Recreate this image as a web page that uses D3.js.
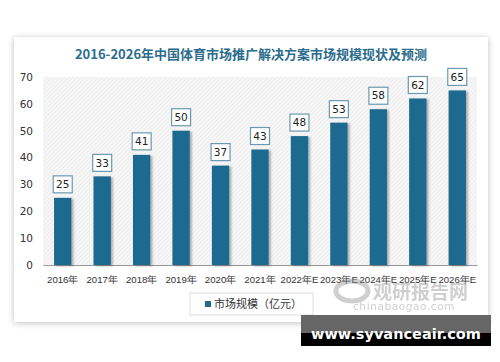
<!DOCTYPE html>
<html>
<head>
<meta charset="utf-8">
<script src="https://cdn.jsdelivr.net/npm/d3@7"></script>
<style>
  body { margin: 0; background: #fff; }
  svg { display: block; font-family: "Noto Sans CJK SC", "DejaVu Sans", sans-serif; }
</style>
</head>
<body>
<div id="chart"></div>
<script>
const categories = ["2016年", "2017年", "2018年", "2019年", "2020年", "2021年", "2022年E", "2023年E", "2024年E", "2025年E", "2026年E"];
const marketSize = [25, 33, 41, 50, 37, 43, 48, 53, 58, 62, 65];
const yTicks = [0, 10, 20, 30, 40, 50, 60, 70];
const title = "2016-2026年中国体育市场推广解决方案市场规模现状及预测";
const seriesName = "市场规模（亿元）";

const W = 500, H = 362;
const margin = { top: 77, right: 23, bottom: 97, left: 43 };
const width = W - margin.left - margin.right,
      height = H - margin.top - margin.bottom;

const svg = d3.select("#chart").append("svg")
    .attr("width", W).attr("height", H);

const defs = svg.append("defs");
const sh = defs.append("filter").attr("id", "cardShadow").attr("x", "-10%").attr("y", "-10%").attr("width", "120%").attr("height", "120%");
sh.append("feDropShadow").attr("dx", 0).attr("dy", 1).attr("stdDeviation", 3).attr("flood-color", "#000").attr("flood-opacity", 0.25);
const bs = defs.append("filter").attr("id", "barShadow").attr("x", "-30%").attr("y", "-10%").attr("width", "160%").attr("height", "120%");
bs.append("feDropShadow").attr("dx", 2).attr("dy", 1).attr("stdDeviation", 1.2).attr("flood-color", "#000").attr("flood-opacity", 0.3);
const pat = defs.append("pattern").attr("id", "hatch").attr("patternUnits", "userSpaceOnUse")
    .attr("width", 3).attr("height", 3).attr("patternTransform", "rotate(45)");
pat.append("rect").attr("width", 3).attr("height", 3).attr("fill", "#f7f7f7");
pat.append("line").attr("x1", 0).attr("y1", 0).attr("x2", 0).attr("y2", 3).attr("stroke", "#e2e2e2").attr("stroke-width", 1);

// card
svg.append("rect").attr("x", 14).attr("y", 37).attr("width", 474).attr("height", 285)
    .attr("fill", "#fff").attr("filter", "url(#cardShadow)");

svg.append("text").attr("x", 251).attr("y", 59).attr("text-anchor", "middle")
    .attr("font-size", 13).attr("font-weight", "bold").attr("fill", "#2b6c8c")
    .text(title);

const g = svg.append("g").attr("transform", `translate(${margin.left},${margin.top})`);

g.append("rect").attr("width", width).attr("height", height).attr("fill", "url(#hatch)");

const x = d3.scaleBand().domain(categories).range([0, width]).paddingInner(0.56).paddingOuter(0.28);
const y = d3.scaleLinear().domain([0, 70]).range([height, 0]);

const yAxis = g.append("g").call(d3.axisLeft(y).tickValues(yTicks).tickSize(0).tickPadding(10));
yAxis.select(".domain").remove();
yAxis.selectAll("text").attr("font-size", 10.5).attr("fill", "#333").attr("font-family", "DejaVu Sans, sans-serif");

const xAxis = g.append("g").attr("transform", `translate(0,${height})`)
    .call(d3.axisBottom(x).tickSize(0).tickPadding(11));
xAxis.select(".domain").attr("stroke", "#999").attr("stroke-width", 1.2);
xAxis.selectAll("text").attr("font-size", 9.6).attr("fill", "#333");

g.selectAll("rect.bar").data(marketSize).join("rect").attr("class", "bar")
    .attr("x", (d, i) => x(categories[i]))
    .attr("y", d => y(d))
    .attr("width", x.bandwidth())
    .attr("height", d => height - y(d))
    .attr("fill", "#1d6b8f")
    .attr("filter", "url(#barShadow)");

const lbl = g.selectAll("g.lbl").data(marketSize).join("g").attr("class", "lbl")
    .attr("transform", (d, i) => `translate(${x(categories[i]) + x.bandwidth() / 2},${y(d) - 13})`);
lbl.append("rect").attr("x", -9.5).attr("y", -9).attr("width", 19).attr("height", 17)
    .attr("fill", "#fff").attr("stroke", "#6b98b0").attr("stroke-width", 1.2);
lbl.append("text").attr("text-anchor", "middle").attr("dy", "0.35em").attr("y", -0.5)
    .attr("font-size", 10.5).attr("fill", "#222").attr("font-family", "DejaVu Sans, sans-serif")
    .text(d => d);

// legend
const leg = svg.append("g").attr("transform", "translate(190,293)");
leg.append("rect").attr("width", 123).attr("height", 22).attr("fill", "#fff").attr("stroke", "#ddd");
leg.append("rect").attr("x", 15).attr("y", 8).attr("width", 6).attr("height", 6).attr("fill", "#1d6b8f");
leg.append("text").attr("x", 24).attr("y", 15).attr("font-size", 11).attr("fill", "#333").text(seriesName);

// watermark
const wm = svg.append("g").attr("opacity", 0.4);
wm.append("ellipse").attr("cx", 352).attr("cy", 291).attr("rx", 16).attr("ry", 10)
    .attr("fill", "none").attr("stroke", "#888").attr("stroke-width", 5);
wm.append("text").attr("x", 373).attr("y", 299).attr("font-size", 19).attr("font-weight", "bold").attr("fill", "#888").text("观研报告网");
wm.append("text").attr("x", 353).attr("y", 310).attr("font-size", 10.5).attr("fill", "#888")
    .attr("letter-spacing", 0.6).attr("font-family", "DejaVu Sans, sans-serif").text("chinabaogao.com");

// bottom banner
svg.append("rect").attr("x", 301).attr("y", 315).attr("width", 190).attr("height", 31).attr("fill", "#000");
svg.append("rect").attr("x", 301).attr("y", 315).attr("width", 190).attr("height", 18).attr("fill", "#666");
svg.append("text").attr("x", 396).attr("y", 339).attr("text-anchor", "middle")
    .attr("font-size", 14.5).attr("font-weight", "bold").attr("fill", "#fff")
    .attr("font-family", "DejaVu Sans, sans-serif").text("www.syvanceair.com");
</script>
</body>
</html>
